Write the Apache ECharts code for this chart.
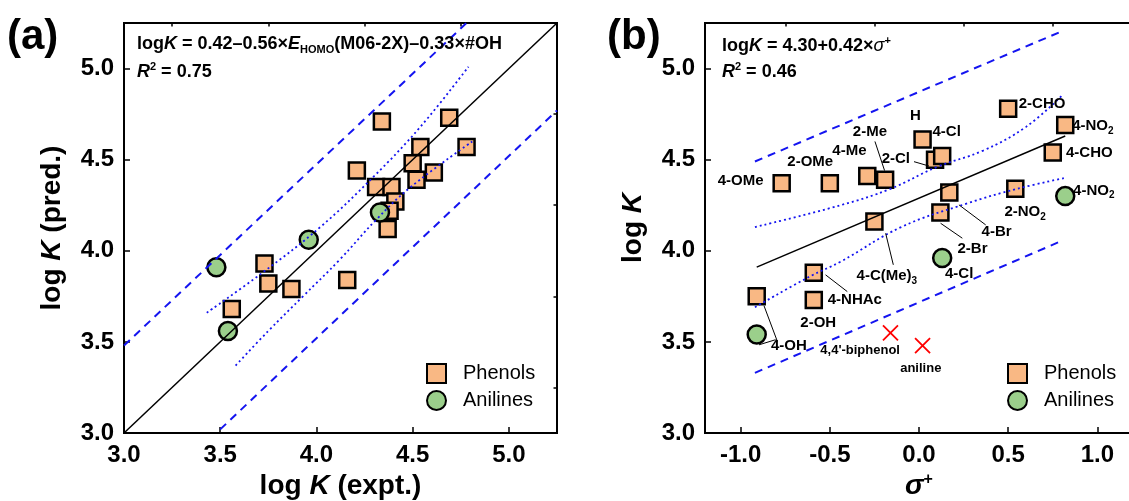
<!DOCTYPE html>
<html>
<head>
<meta charset="utf-8">
<script src="https://cdn.jsdelivr.net/npm/echarts@6/dist/echarts.min.js"></script>
<style>html,body{margin:0;background:#fff}#chart{width:1129px;height:501px}</style>
</head>
<body>
<div id="chart"></div>
<script>
// ---- panel (a): predicted vs experimental log K ----
const phenolExpt = [4.34, 4.69, 4.54, 4.78, 4.50, 4.21, 4.61, 4.52, 4.31, 4.39, 4.41, 4.38, 4.37, 3.73, 3.75, 3.87, 4.16, 3.56];
const phenolPred = [4.71, 4.73, 4.57, 4.57, 4.48, 4.44, 4.43, 4.39, 4.35, 4.35, 4.27, 4.22, 4.12, 3.93, 3.82, 3.79, 3.84, 3.68];
const anilineExpt = [3.48, 3.96, 4.33, 3.54];
const anilinePred = [3.91, 4.06, 4.21, 3.56];
const fitA = [[3.0, 3.0], [5.25, 5.25]];
const predUpperA = [[3.0, 3.48], [4.78, 5.25]];
const predLowerA = [[3.50, 3.02], [5.25, 4.77]];
const confUpperA = [[3.43, 3.66], [3.72, 3.88], [4.02, 4.13], [4.30, 4.41], [4.54, 4.68], [4.79, 5.01]];
const confLowerA = [[3.58, 3.37], [3.75, 3.56], [3.93, 3.75], [4.12, 3.95], [4.31, 4.17], [4.49, 4.35], [4.81, 4.60]];

// ---- panel (b): log K vs sigma+ ----
const phenolSigma = [-0.77, -0.50, -0.29, -0.19, 0.02, 0.09, 0.13, 0.50, 0.82, 0.75, 0.54, 0.17, 0.12, -0.25, -0.59, -0.59, -0.91];
const phenolLogK = [4.37, 4.37, 4.41, 4.39, 4.61, 4.50, 4.52, 4.78, 4.69, 4.54, 4.34, 4.32, 4.21, 4.16, 3.88, 3.73, 3.75];
const anilineSigma = [0.82, 0.13, -0.91];
const anilineLogK = [4.30, 3.96, 3.54];
const outlierSigma = [-0.16, 0.02];
const outlierLogK = [3.55, 3.48];
const fitB = [[-0.91, 3.91], [0.82, 4.63]];
const predUpperB = [[-0.92, 4.49], [0.79, 5.20]];
const predLowerB = [[-0.92, 3.33], [0.79, 4.05]];
const confUpperB = [[-0.92, 4.13], [-0.44, 4.25], [-0.16, 4.34], [0.10, 4.46], [0.36, 4.55], [0.60, 4.68], [0.80, 4.85]];
const confLowerB = [[-0.92, 3.69], [-0.61, 3.86], [-0.44, 3.94], [-0.10, 4.13], [0.27, 4.26], [0.55, 4.34], [0.82, 4.40]];

// substituent labels (text, x, y) and leader lines
const labelText = ['4-OMe', '2-OMe', '4-Me', '2-Me', 'H', '4-Cl', '2-Cl', '2-CHO', '4-NO{s|2}', '4-CHO', '4-NO{s|2}',
  '2-NO{s|2}', '4-Br', '2-Br', '4-Cl', '4-C(Me){s|3}', '4-NHAc', '2-OH', '4-OH'];
const labelX = [-1.00, -0.61, -0.39, -0.275, -0.02, 0.155, -0.13, 0.69, 0.975, 0.955, 0.98, 0.595, 0.435, 0.30, 0.225, -0.18, -0.36, -0.565, -0.73];
const labelY = [4.383, 4.489, 4.548, 4.654, 4.74, 4.654, 4.504, 4.804, 4.685, 4.535, 4.33, 4.212, 4.102, 4.009, 3.873, 3.862, 3.731, 3.606, 3.48];
const outlierText = ['4,4\'-biphenol', 'aniline'];
const outlierLabelX = [-0.33, 0.01];
const outlierLabelY = [3.453, 3.356];
const leaders = [
  [-0.247, 4.60, -0.193, 4.44],
  [-0.028, 4.489, 0.056, 4.465],
  [0.224, 4.252, 0.374, 4.142],
  [0.121, 4.151, 0.243, 4.069],
  [-0.187, 4.096, -0.144, 3.923],
  [-0.524, 3.868, -0.402, 3.776],
  [-0.869, 3.698, -0.794, 3.502],
  [-0.897, 3.484, -0.804, 3.512]
];

const yTicks = [3.0, 3.5, 4.0, 4.5, 5.0];
const yMinor = [3.25, 3.75, 4.25, 4.75];
const xTicksA = [3.0, 3.5, 4.0, 4.5, 5.0];
const xMinorA = [3.25, 3.75, 4.25, 4.75];
const xTicksB = [-1.0, -0.5, 0.0, 0.5, 1.0];
const xMinorB = [-0.75, -0.25, 0.25, 0.75];

const FONT = 'Arial, "Liberation Sans", Helvetica, sans-serif';
const BLUE = '#1414f0';
const SQ_FILL = '#f9b884';
const CI_FILL = '#9bcf8b';

const zip = (a, b) => a.map((v, i) => [v, b[i]]);

function mainAxis(grid, min, max, ticks, extra) {
  return Object.assign({
    type: 'value', gridIndex: grid, min: min, max: max,
    splitLine: { show: false },
    axisLine: { show: true, onZero: false, lineStyle: { color: '#000', width: 2 } },
    axisTick: { show: true, inside: true, length: 6, customValues: ticks, lineStyle: { color: '#000', width: 1.5 } },
    axisLabel: {
      customValues: ticks, margin: 10, color: '#000', fontFamily: FONT, fontWeight: 'bold', fontSize: 24,
      formatter: v => v.toFixed(1)
    }
  }, extra || {});
}
function minorAxis(grid, min, max, ticks) {
  return {
    type: 'value', gridIndex: grid, min: min, max: max,
    splitLine: { show: false },
    axisLine: { show: false, onZero: false },
    axisLabel: { show: false },
    axisTick: { show: true, inside: true, length: 3.5, customValues: ticks, lineStyle: { color: '#000', width: 1.5 } }
  };
}

const nameStyle = {
  color: '#000', fontFamily: FONT, fontWeight: 'bold', fontSize: 28,
  rich: {
    n: { fontFamily: FONT, fontWeight: 'bold', fontSize: 28, color: '#000' },
    ni: { fontFamily: FONT, fontWeight: 'bold', fontStyle: 'italic', fontSize: 28, color: '#000' },
    si: { fontFamily: FONT, fontStyle: 'italic', fontSize: 28, color: '#000' },
    sup: { fontFamily: FONT, fontSize: 16, color: '#000', verticalAlign: 'top' }
  }
};

function lineSeries(data, x, y, style, smooth) {
  return {
    type: 'line', xAxisIndex: x, yAxisIndex: y, data: data, symbol: 'none', showSymbol: false,
    smooth: smooth ? 0.4 : false, z: 5, silent: true, lineStyle: style
  };
}
const solid = { color: '#000', width: 1.5 };
const dashed = { color: BLUE, width: 2, type: [8, 6] };
const dotted = { color: BLUE, width: 1.8, type: [2, 3] };

const squareStyle = { color: SQ_FILL, borderColor: '#000', borderWidth: 2.5, opacity: 1 };
const circleStyle = { color: CI_FILL, borderColor: '#000', borderWidth: 2.5, opacity: 1 };

const series = [
  { name: 'Phenols', type: 'scatter', xAxisIndex: 0, yAxisIndex: 0, symbol: 'rect', symbolSize: 16, z: 3,
    itemStyle: squareStyle, data: zip(phenolExpt, phenolPred) },
  { name: 'Anilines', type: 'scatter', xAxisIndex: 0, yAxisIndex: 0, symbol: 'circle', symbolSize: 18, z: 3,
    itemStyle: circleStyle, data: zip(anilineExpt, anilinePred) },
  lineSeries(fitA, 0, 0, solid),
  lineSeries(predUpperA, 0, 0, dashed),
  lineSeries(predLowerA, 0, 0, dashed),
  lineSeries(confUpperA, 0, 0, dotted, true),
  lineSeries(confLowerA, 0, 0, dotted, true),

  { name: 'Phenols', type: 'scatter', xAxisIndex: 1, yAxisIndex: 1, symbol: 'rect', symbolSize: 16, z: 3,
    itemStyle: squareStyle, data: zip(phenolSigma, phenolLogK) },
  { name: 'Anilines', type: 'scatter', xAxisIndex: 1, yAxisIndex: 1, symbol: 'circle', symbolSize: 18, z: 3,
    itemStyle: circleStyle, data: zip(anilineSigma, anilineLogK) },
  { type: 'scatter', xAxisIndex: 1, yAxisIndex: 1, symbol: 'path://M0,0L10,10M10,0L0,10', symbolSize: 15, z: 3,
    itemStyle: { color: 'transparent', borderColor: '#ff0000', borderWidth: 1.8, opacity: 1 }, data: zip(outlierSigma, outlierLogK) },
  lineSeries(fitB, 1, 1, solid),
  lineSeries(predUpperB, 1, 1, dashed),
  lineSeries(predLowerB, 1, 1, dashed),
  lineSeries(confUpperB, 1, 1, dotted, true),
  lineSeries(confLowerB, 1, 1, dotted, true),
  {
    type: 'scatter', xAxisIndex: 1, yAxisIndex: 1, symbolSize: 1, z: 6, silent: true,
    itemStyle: { color: 'transparent' },
    data: labelText.map((t, i) => ({ value: [labelX[i], labelY[i]], t: t })),
    label: {
      show: true, position: 'inside', formatter: p => p.data.t, color: '#000', opacity: 1,
      fontFamily: FONT, fontWeight: 'bold', fontSize: 15, lineHeight: 20,
      rich: { s: { fontFamily: FONT, fontWeight: 'bold', fontSize: 10, lineHeight: 8, verticalAlign: 'bottom', color: '#000' } }
    }
  },
  {
    type: 'scatter', xAxisIndex: 1, yAxisIndex: 1, symbolSize: 1, z: 6, silent: true,
    itemStyle: { color: 'transparent' },
    data: outlierText.map((t, i) => ({ value: [outlierLabelX[i], outlierLabelY[i]], t: t })),
    label: { show: true, position: 'inside', formatter: p => p.data.t, color: '#000', opacity: 1, fontFamily: FONT, fontWeight: 'bold', fontSize: 13 }
  }
];
leaders.forEach(s => {
  series.push(lineSeries([[s[0], s[1]], [s[2], s[3]]], 1, 1, { color: '#000', width: 1 }));
});

function legendAt(left) {
  return {
    left: left, top: 363, orient: 'vertical', padding: 0, itemGap: 6, itemWidth: 19, itemHeight: 19,
    data: ['Phenols', 'Anilines'], selectedMode: false,
    itemStyle: { opacity: 1 },
    textStyle: { color: '#000', fontFamily: FONT, fontSize: 20, padding: [0, 0, 0, 12] }
  };
}

const boldRich = {
  b: { fontFamily: FONT, fontWeight: 'bold', fontSize: 18, color: '#000', lineHeight: 22 },
  bi: { fontFamily: FONT, fontWeight: 'bold', fontStyle: 'italic', fontSize: 18, color: '#000', lineHeight: 22 },
  si: { fontFamily: FONT, fontStyle: 'italic', fontSize: 18, color: '#000', lineHeight: 22 },
  sub: { fontFamily: FONT, fontWeight: 'bold', fontSize: 11, color: '#000', verticalAlign: 'bottom', lineHeight: 11 },
  sup: { fontFamily: FONT, fontWeight: 'bold', fontSize: 11, color: '#000', verticalAlign: 'top', lineHeight: 11 }
};
function txt(x, y, text) {
  return {
    type: 'text', left: x, top: y, z: 20, silent: true,
    style: { text: text, rich: boldRich, fill: '#000' }
  };
}

const chart = echarts.init(document.getElementById('chart'), null, { renderer: 'canvas' });
chart.setOption({
  animation: false,
  backgroundColor: '#fff',
  grid: [
    { left: 124, top: 23, width: 433, height: 410, show: true, borderColor: '#000', borderWidth: 2, outerBoundsMode: 'none' },
    { left: 705, top: 23, width: 428, height: 410, show: true, borderColor: '#000', borderWidth: 2, outerBoundsMode: 'none' }
  ],
  xAxis: [
    mainAxis(0, 3.0, 5.25, xTicksA, {
      name: '{n|log }{ni|K}{n| (expt.)}', nameLocation: 'middle', nameGap: 37, nameTextStyle: nameStyle
    }),
    mainAxis(1, -1.2, 1.2, xTicksB, {
      name: '{si|σ}{sup|+}', nameLocation: 'middle', nameGap: 36, nameTextStyle: nameStyle
    }),
    minorAxis(0, 3.0, 5.25, xMinorA),
    minorAxis(1, -1.2, 1.2, xMinorB)
  ],
  yAxis: [
    mainAxis(0, 3.0, 5.25, yTicks, {
      name: '{n|log }{ni|K}{n| (pred.)}', nameLocation: 'middle', nameGap: 58, nameTextStyle: nameStyle
    }),
    mainAxis(1, 3.0, 5.25, yTicks, {
      name: '{n|log }{ni|K}', nameLocation: 'middle', nameGap: 58, nameTextStyle: nameStyle
    }),
    minorAxis(0, 3.0, 5.25, yMinor),
    minorAxis(1, 3.0, 5.25, yMinor)
  ],
  legend: [legendAt(426), legendAt(1007)],
  graphic: [
    { type: 'text', left: 7, top: 16, style: { text: '(a)', fill: '#000', font: 'bold 42px ' + FONT } },
    { type: 'text', left: 607, top: 16, style: { text: '(b)', fill: '#000', font: 'bold 42px ' + FONT } },
    txt(137, 35, '{b|log}{bi|K}{b| = 0.42–0.56×}{bi|E}{sub|HOMO}{b|(M06-2X)–0.33×#OH}'),
    txt(137, 61, '{bi|R}{sup|2}{b| = 0.75}'),
    txt(722, 35, '{b|log}{bi|K}{b| = 4.30+0.42×}{si|σ}{sup|+}'),
    txt(722, 61, '{bi|R}{sup|2}{b| = 0.46}')
  ],
  series: series
});
</script>
</body>
</html>
